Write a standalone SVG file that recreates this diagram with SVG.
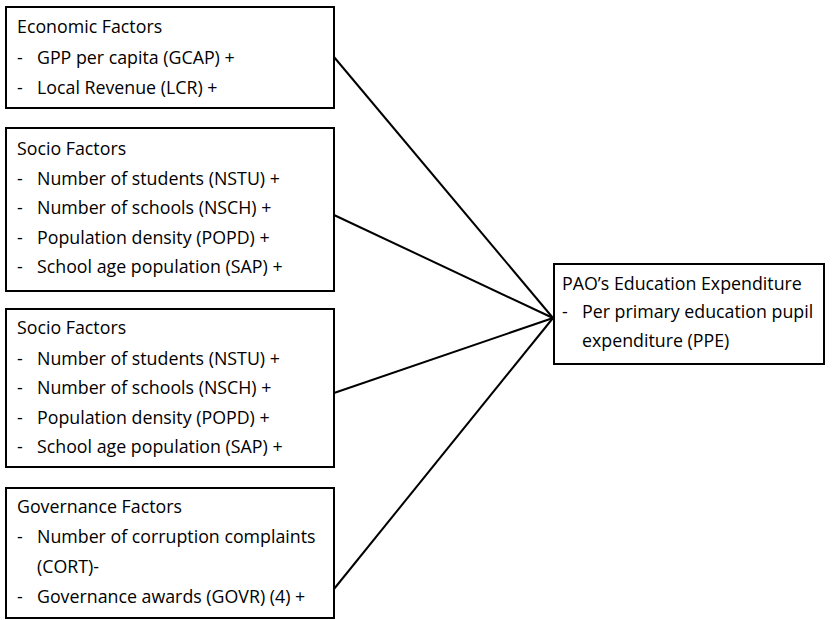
<svg xmlns="http://www.w3.org/2000/svg" width="833" height="620" viewBox="0 0 833 620">
<style>
.box{fill:#fff;stroke:#000;stroke-width:2}
.t{font-family:"Open Sans","Noto Sans",sans-serif;font-size:17.8px;fill:#000}
.c{fill:none;stroke:#000;stroke-width:2}
</style>
<rect width="833" height="620" fill="#fff"/>
<g id="connectors">
<line class="c" x1="334" y1="57" x2="553" y2="318"/>
<line class="c" x1="334" y1="215" x2="553" y2="318"/>
<line class="c" x1="334" y1="393" x2="553" y2="318"/>
<line class="c" x1="334" y1="589" x2="553" y2="318"/>
</g>
<g id="economic">
<rect class="box" x="6" y="7" width="328" height="101"/>
<text class="t" x="17" y="33">Economic Factors</text>
<text class="t" x="17" y="64">-</text><text class="t" x="37" y="64">GPP per capita (GCAP) +</text>
<text class="t" x="17" y="94">-</text><text class="t" x="37" y="94">Local Revenue (LCR) +</text>
</g>
<g id="socio1">
<rect class="box" x="6" y="128" width="328" height="163"/>
<text class="t" x="17" y="155">Socio Factors</text>
<text class="t" x="17" y="185">-</text><text class="t" x="37" y="185">Number of students (NSTU) +</text>
<text class="t" x="17" y="214">-</text><text class="t" x="37" y="214">Number of schools (NSCH) +</text>
<text class="t" x="17" y="244">-</text><text class="t" x="37" y="244">Population density (POPD) +</text>
<text class="t" x="17" y="273">-</text><text class="t" x="37" y="273">School age population (SAP) +</text>
</g>
<g id="socio2">
<rect class="box" x="6" y="309" width="328" height="158"/>
<text class="t" x="17" y="334">Socio Factors</text>
<text class="t" x="17" y="365">-</text><text class="t" x="37" y="365">Number of students (NSTU) +</text>
<text class="t" x="17" y="394">-</text><text class="t" x="37" y="394">Number of schools (NSCH) +</text>
<text class="t" x="17" y="424">-</text><text class="t" x="37" y="424">Population density (POPD) +</text>
<text class="t" x="17" y="453">-</text><text class="t" x="37" y="453">School age population (SAP) +</text>
</g>
<g id="governance">
<rect class="box" x="6" y="488" width="328" height="130"/>
<text class="t" x="17" y="513">Governance Factors</text>
<text class="t" x="17" y="543">-</text><text class="t" x="37" y="543">Number of corruption complaints</text>
<text class="t" x="37" y="573">(CORT)-</text>
<text class="t" x="17" y="603">-</text><text class="t" x="37" y="603">Governance awards (GOVR) (4) +</text>
</g>
<g id="pao">
<rect class="box" x="554" y="264" width="270" height="100"/>
<text class="t" x="562" y="290">PAO’s Education Expenditure</text>
<text class="t" x="562" y="318">-</text><text class="t" x="582" y="318">Per primary education pupil</text>
<text class="t" x="582" y="347">expenditure (PPE)</text>
</g>
</svg>
